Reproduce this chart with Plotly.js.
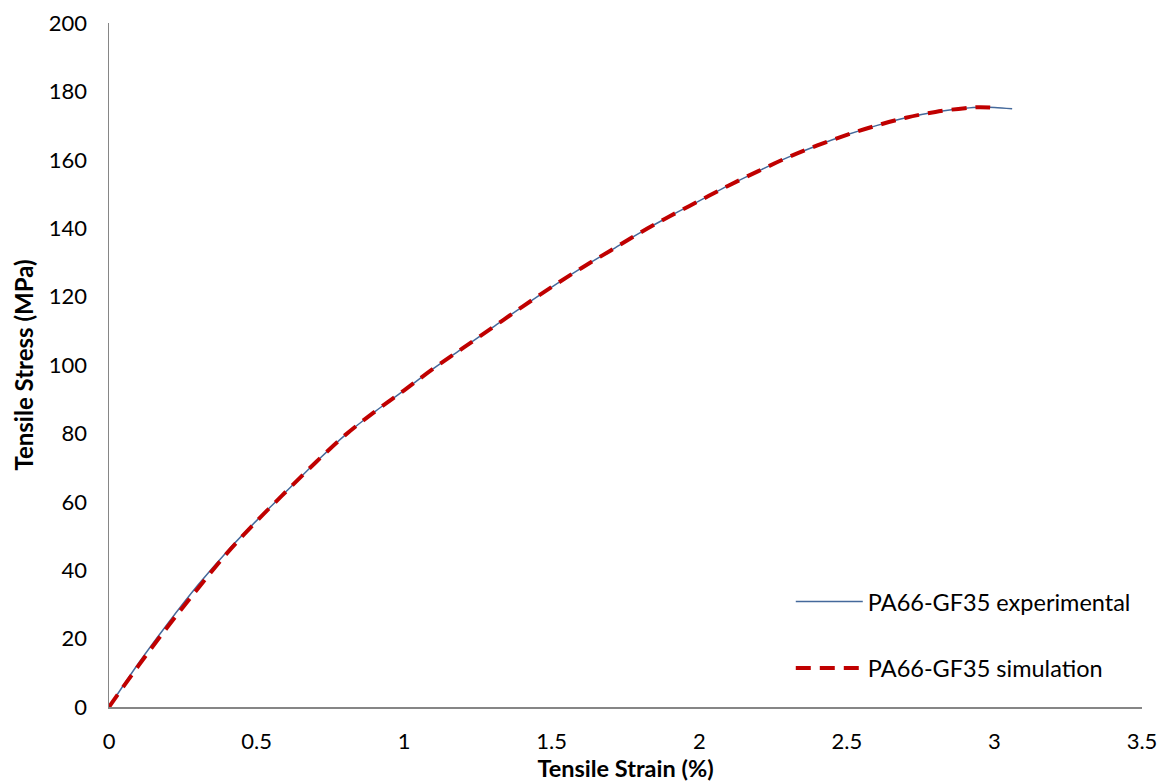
<!DOCTYPE html>
<html>
<head>
<meta charset="utf-8">
<script src="https://cdn.plot.ly/plotly-3.0.1.min.js"></script>
<style>html,body{margin:0;padding:0;background:#fff;}#chart{width:1166px;height:783px;}</style>
</head>
<body>
<div id="chart"></div>
<script>
// Tensile strain (%) and stress (MPa)
const strainExp = [0, 0.1, 0.2, 0.3, 0.4, 0.5, 0.6, 0.7, 0.8, 0.9, 1.0, 1.1, 1.2, 1.3, 1.4, 1.5, 1.6, 1.7, 1.8, 1.9, 2.0, 2.1, 2.2, 2.3, 2.4, 2.5, 2.6, 2.7, 2.8, 2.9, 2.95, 3.0, 3.06];
const stressExp = [0, 12.8, 24.5, 35.5, 45.5, 54.5, 63, 71.5, 79.5, 86.3, 92.6, 99, 105, 111, 117, 122.8, 128.3, 133.5, 138.7, 143.5, 148, 152.5, 156.7, 160.7, 164.2, 167.3, 170, 172.3, 174, 175.1, 175.4, 175.3, 174.9];
const strainSim = [0, 0.1, 0.2, 0.3, 0.4, 0.5, 0.6, 0.7, 0.8, 0.9, 1.0, 1.1, 1.2, 1.3, 1.4, 1.5, 1.6, 1.7, 1.8, 1.9, 2.0, 2.1, 2.2, 2.3, 2.4, 2.5, 2.6, 2.7, 2.8, 2.9, 2.95, 3.0];
const stressSim = [0, 12.1, 23.6, 34.5, 45, 54.3, 63, 71.5, 79.5, 86.3, 92.6, 99, 105, 111, 117, 122.8, 128.3, 133.5, 138.7, 143.5, 148, 152.5, 156.7, 160.7, 164.2, 167.3, 170, 172.3, 174, 175.1, 175.4, 175.2];
const seriesNames = ['PA66-GF35 experimental', 'PA66-GF35 simulation'];

const fontFam = 'Lato, "Open Sans", sans-serif';
const traces = [
  {x: strainExp, y: stressExp, name: seriesNames[0], type: 'scatter', mode: 'lines',
   line: {color: '#44699B', width: 1.5, shape: 'spline'}, legendgroup: 'a'},
  {x: strainSim, y: stressSim, name: seriesNames[1], type: 'scatter', mode: 'lines',
   line: {color: '#C00000', width: 4, dash: '15px,9px', shape: 'spline'}, legendgroup: 'b'}
];
const layout = {
  width: 1166, height: 783,
  margin: {l: 109, r: 24, t: 23, b: 76},
  paper_bgcolor: '#fff', plot_bgcolor: '#fff',
  font: {family: fontFam, color: '#000', size: 22},
  xaxis: {range: [0, 3.5], dtick: 0.5, tick0: 0, showgrid: false, zeroline: false,
    showline: true, linecolor: '#868686', linewidth: 1.5, ticks: '', ticklabelstandoff: 14,
    tickfont: {size: 22, family: fontFam},
    title: {text: '<b>Tensile Strain (%)</b>', font: {size: 23.5, family: fontFam}, standoff: 3}},
  yaxis: {range: [0, 200], dtick: 20, tick0: 0, showgrid: false, zeroline: false,
    showline: true, linecolor: '#868686', linewidth: 1.5, ticks: '', ticklabelstandoff: 16,
    tickfont: {size: 22, family: fontFam},
    title: {text: '<b>Tensile Stress (MPa)</b>', font: {size: 24, family: fontFam}, standoff: 8}},
  showlegend: true,
  legend: {x: 0.66, y: 0.186, xanchor: 'left', yanchor: 'top', traceorder: 'grouped',
    tracegroupgap: 33, itemwidth: 67, font: {size: 23.5, family: fontFam}, bgcolor: 'rgba(0,0,0,0)'}
};
Plotly.newPlot('chart', traces, layout, {displayModeBar: false, staticPlot: true});
</script>
</body>
</html>
